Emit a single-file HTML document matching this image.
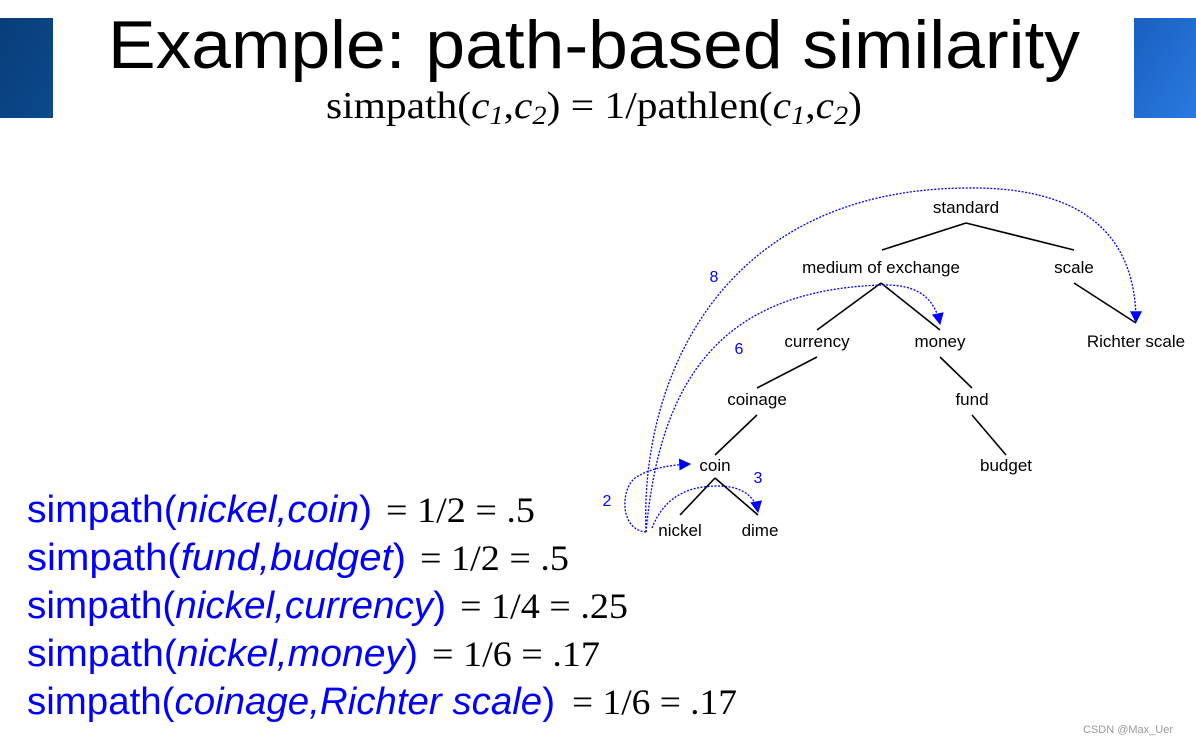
<!DOCTYPE html>
<html><head><meta charset="utf-8"><style>
html,body{margin:0;padding:0;background:#fff;}
svg{display:block;}
</style></head><body>
<svg width="1196" height="743" viewBox="0 0 1196 743" xmlns="http://www.w3.org/2000/svg">
<defs>
<linearGradient id="g1" x1="0" y1="0" x2="1" y2="1"><stop offset="0" stop-color="#0a3d7a"/><stop offset="1" stop-color="#0b4a8c"/></linearGradient>
<linearGradient id="g2" x1="0" y1="0" x2="1" y2="1"><stop offset="0" stop-color="#1a5fc0"/><stop offset="1" stop-color="#2a7ae0"/></linearGradient>
<marker id="ar" viewBox="0 0 10 10" refX="9" refY="5" markerWidth="15" markerHeight="12" orient="auto" markerUnits="userSpaceOnUse"><path d="M0,0 L10,5 L0,10 z" fill="#0000ff"/></marker>
</defs>
<rect x="0" y="18" width="53" height="100" fill="url(#g1)"/>
<rect x="1134" y="18" width="62" height="100" fill="url(#g2)"/>
<text x="108" y="68" font-family="Liberation Sans, sans-serif" font-size="68" textLength="972" lengthAdjust="spacingAndGlyphs">Example: path-based similarity</text>
<text x="326" y="118" font-family="Liberation Serif, serif" font-size="38" textLength="536" lengthAdjust="spacingAndGlyphs">simpath(<tspan font-style="italic">c</tspan><tspan font-style="italic" font-size="26" dy="6">1</tspan><tspan dy="-6">,</tspan><tspan font-style="italic">c</tspan><tspan font-style="italic" font-size="26" dy="6">2</tspan><tspan dy="-6">) = 1/pathlen(</tspan><tspan font-style="italic">c</tspan><tspan font-style="italic" font-size="26" dy="6">1</tspan><tspan dy="-6">,</tspan><tspan font-style="italic">c</tspan><tspan font-style="italic" font-size="26" dy="6">2</tspan><tspan dy="-6">)</tspan></text>

<g stroke="#000" stroke-width="1.6" fill="none">
<line x1="966" y1="223" x2="882" y2="250"/><line x1="966" y1="223" x2="1074" y2="250"/>
<line x1="881" y1="283" x2="817" y2="330"/><line x1="881" y1="283" x2="940" y2="330"/>
<line x1="1074" y1="283" x2="1136" y2="323"/>
<line x1="817" y1="357" x2="757" y2="388"/><line x1="940" y1="357" x2="972" y2="388"/>
<line x1="757" y1="415" x2="715" y2="455"/><line x1="972" y1="415" x2="1006" y2="455"/>
<line x1="715" y1="478" x2="680" y2="515"/><line x1="715" y1="478" x2="758" y2="515"/>
</g>
<g font-family="Liberation Sans, sans-serif" font-size="17" text-anchor="middle" fill="#000">
<text x="966" y="213">standard</text>
<text x="881" y="273">medium of exchange</text>
<text x="1074" y="273">scale</text>
<text x="817" y="347">currency</text>
<text x="940" y="347">money</text>
<text x="1136" y="347">Richter scale</text>
<text x="757" y="405">coinage</text>
<text x="972" y="405">fund</text>
<text x="715" y="471">coin</text>
<text x="1006" y="471">budget</text>
<text x="680" y="536">nickel</text>
<text x="760" y="536">dime</text>
</g>
<g stroke="#0000ff" stroke-width="1.3" stroke-dasharray="2,1.5" fill="none">
<path d="M646,532 C640,380 720,190 966,188 C1100,186 1136,250 1136,322" marker-end="url(#ar)"/>
<path d="M646,532 C660,380 720,290 882,285 C920,284 935,300 940,324" marker-end="url(#ar)"/>
<path d="M646,532 C620,530 620,490 635,478 C650,468 670,465 690,464" marker-end="url(#ar)"/>
<path d="M652,528 C665,495 690,486 718,486 C740,486 755,495 758,512" marker-end="url(#ar)"/>
</g>
<g font-family="Liberation Sans, sans-serif" font-size="16" fill="#0000ff" text-anchor="middle">
<text x="714" y="282">8</text>
<text x="739" y="354">6</text>
<text x="607" y="506">2</text>
<text x="758" y="483">3</text>
</g>

<g font-family="Liberation Sans, sans-serif" font-size="38" fill="#0000ff">
<text x="27" y="522" textLength="345" lengthAdjust="spacingAndGlyphs">simpath(<tspan font-style="italic">nickel,coin</tspan>)</text>
<text x="27" y="570" textLength="379" lengthAdjust="spacingAndGlyphs">simpath(<tspan font-style="italic">fund,budget</tspan>)</text>
<text x="27" y="618" textLength="419" lengthAdjust="spacingAndGlyphs">simpath(<tspan font-style="italic">nickel,currency</tspan>)</text>
<text x="27" y="666" textLength="391" lengthAdjust="spacingAndGlyphs">simpath(<tspan font-style="italic">nickel,money</tspan>)</text>
<text x="27" y="714" textLength="528" lengthAdjust="spacingAndGlyphs">simpath(<tspan font-style="italic">coinage,Richter scale</tspan>)</text>
</g>
<g font-family="Liberation Serif, serif" font-size="36" fill="#000">
<text x="386" y="522" textLength="149" lengthAdjust="spacingAndGlyphs">= 1/2 = .5</text>
<text x="420" y="570" textLength="149" lengthAdjust="spacingAndGlyphs">= 1/2 = .5</text>
<text x="460" y="618" textLength="168" lengthAdjust="spacingAndGlyphs">= 1/4 = .25</text>
<text x="432" y="666" textLength="168" lengthAdjust="spacingAndGlyphs">= 1/6 = .17</text>
<text x="572" y="714" textLength="165" lengthAdjust="spacingAndGlyphs">= 1/6 = .17</text>
</g>
<text x="1083" y="733" font-family="Liberation Sans, sans-serif" font-size="11" fill="#999">CSDN @Max_Uer</text>
</svg>
</body></html>
